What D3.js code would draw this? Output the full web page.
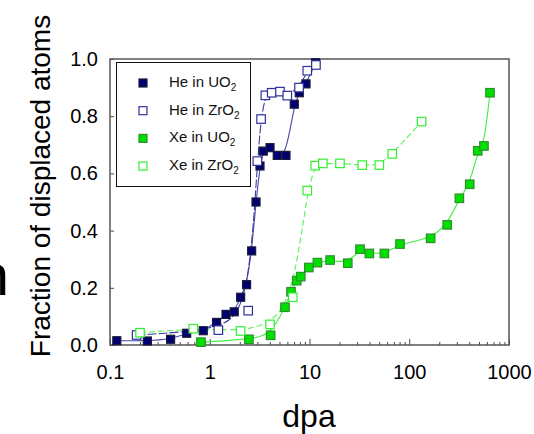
<!DOCTYPE html>
<html>
<head>
<meta charset="utf-8">
<script src="https://cdn.jsdelivr.net/npm/d3@7"></script>
<style>
  body { margin: 0; background: #fff; }
  svg { display: block; font-family: "Liberation Sans", Arial, sans-serif; }
</style>
</head>
<body>
<div id="chart"></div>
<script>
// ── Data ──────────────────────────────────────────────────────────────────
const heUO2_dpa = [0.117, 0.237, 0.405, 0.587, 0.861, 1.17, 1.456, 1.76, 2.04, 2.34, 2.63, 2.91, 3.19, 3.44, 4.02, 4.75, 5.81, 7.04, 7.9, 9.23, 11.5];
const heUO2_frac = [0.015, 0.014, 0.02, 0.041, 0.05, 0.079, 0.107, 0.116, 0.167, 0.211, 0.329, 0.5, 0.626, 0.678, 0.69, 0.663, 0.663, 0.842, 0.882, 0.913, 0.987];

const heZrO2_dpa = [0.185, 1.22, 2.43, 3.0, 3.27, 3.61, 4.18, 5.06, 5.99, 7.85, 9.5, 11.6];
const heZrO2_frac = [0.035, 0.052, 0.12, 0.643, 0.79, 0.873, 0.882, 0.886, 0.872, 0.9, 0.959, 0.979];

const xeUO2_dpa = [0.817, 2.47, 4.08, 5.68, 6.53, 7.45, 8.17, 9.85, 12.0, 16.1, 24.2, 32.1, 39.8, 56.3, 80.8, 164, 240, 318, 404, 486, 561, 645];
const xeUO2_frac = [0.01, 0.02, 0.034, 0.132, 0.186, 0.225, 0.239, 0.271, 0.288, 0.297, 0.286, 0.335, 0.32, 0.32, 0.353, 0.373, 0.42, 0.513, 0.562, 0.679, 0.696, 0.882];

const xeZrO2_dpa = [0.2, 0.684, 2.04, 4.02, 6.8, 9.5, 11.4, 13.6, 20.2, 33.8, 50.1, 67.6, 133];
const xeZrO2_frac = [0.043, 0.057, 0.049, 0.072, 0.167, 0.54, 0.627, 0.635, 0.635, 0.629, 0.629, 0.668, 0.781];

const xTickLabels = ["0.1", "1", "10", "100", "1000"];
const yTicks = [0, 0.2, 0.4, 0.6, 0.8, 1.0];

const SERIES = [
    { name: "He in UO", dpa: heUO2_dpa, frac: heUO2_frac, fill: "#000072", stroke: "#1a1a3a", line: "#4848a8", dash: null, size: 8 },
    { name: "He in ZrO", dpa: heZrO2_dpa, frac: heZrO2_frac, fill: "#ffffff", stroke: "#30309c", line: "#3c3ca4", dash: "9,2", size: 8.5 },
    { name: "Xe in UO", dpa: xeUO2_dpa, frac: xeUO2_frac, fill: "#00e000", stroke: "#2f8f2f", line: "#44ee44", dash: null, size: 8.5 },
    { name: "Xe in ZrO", dpa: xeZrO2_dpa, frac: xeZrO2_frac, fill: "#ffffff", stroke: "#30f030", line: "#55f555", dash: "6,3", size: 8.5 },
];

// ── Layout ─────────────────────────────────────────────────────────────────
const W = 534, H = 434;
const plot = { left: 110, right: 509, top: 59, bottom: 345 };

const svg = d3.select("#chart").append("svg")
    .attr("width", W).attr("height", H);

const x = d3.scaleLog().domain([0.1, 1000]).range([plot.left, plot.right]);
const y = d3.scaleLinear().domain([0, 1]).range([plot.bottom, plot.top]);

// stray letter from the slide, cut off at the left edge
svg.append("text")
    .attr("x", 9).attr("y", 295)
    .attr("text-anchor", "end")
    .attr("font-size", 58)
    .attr("fill", "#000")
    .text("n");

// ── Axes ───────────────────────────────────────────────────────────────────
const decades = xTickLabels.map(Number);
const minorTicks = [];
decades.slice(0, -1).forEach(d => { for (let k = 1; k <= 9; k++) minorTicks.push(d * k); });
minorTicks.push(1000);

const xAxis = svg.append("g")
    .attr("transform", `translate(0,${plot.bottom})`)
    .call(d3.axisBottom(x)
        .tickValues(minorTicks)
        .tickSizeInner(-3).tickSizeOuter(0)
        .tickPadding(20)
        .tickFormat(d => decades.includes(d) ? xTickLabels[decades.indexOf(d)] : ""));
xAxis.select(".domain").remove();
xAxis.selectAll(".tick line").attr("stroke", "#444")
    .filter(d => decades.includes(d)).attr("y2", -6);
xAxis.selectAll(".tick text").attr("font-size", 20).attr("fill", "#000")
    .attr("font-family", "Liberation Sans, Arial, sans-serif");

const yAxis = svg.append("g")
    .attr("transform", `translate(${plot.left},0)`)
    .call(d3.axisLeft(y)
        .tickValues(yTicks)
        .tickSizeInner(-4).tickSizeOuter(0)
        .tickPadding(12)
        .tickFormat(d3.format(".1f")));
yAxis.select(".domain").remove();
yAxis.selectAll(".tick line").attr("stroke", "#444");
yAxis.selectAll(".tick text").attr("font-size", 20).attr("fill", "#000")
    .attr("font-family", "Liberation Sans, Arial, sans-serif");

// frame
svg.append("rect")
    .attr("x", plot.left).attr("y", plot.top)
    .attr("width", plot.right - plot.left).attr("height", plot.bottom - plot.top)
    .attr("fill", "none").attr("stroke", "#555").attr("stroke-width", 1.5);

svg.append("text")
    .attr("transform", `translate(50,${(plot.top + plot.bottom) / 2 - 16}) rotate(-90)`)
    .attr("text-anchor", "middle")
    .attr("font-size", 28)
    .attr("fill", "#000")
    .text("Fraction of displaced atoms");

svg.append("text")
    .attr("x", 309).attr("y", 427)
    .attr("text-anchor", "middle")
    .attr("font-size", 32)
    .attr("fill", "#000")
    .text("dpa");

// ── Series ─────────────────────────────────────────────────────────────────
const line = d3.line()
    .x(d => x(d[0]))
    .y(d => y(d[1]))
    .curve(d3.curveBasis);

const lines = svg.append("g");
const marks = svg.append("g");

SERIES.forEach(s => {
    const pts = s.dpa.map((v, i) => [v, s.frac[i]]);
    lines.append("path")
        .datum(pts)
        .attr("fill", "none")
        .attr("stroke", s.line)
        .attr("stroke-width", 1.1)
        .attr("stroke-dasharray", s.dash)
        .attr("d", line);
});

SERIES.forEach(s => {
    const pts = s.dpa.map((v, i) => [v, s.frac[i]]);
    marks.selectAll(null)
        .data(pts)
        .join("rect")
        .attr("x", d => x(d[0]) - s.size / 2)
        .attr("y", d => y(d[1]) - s.size / 2)
        .attr("width", s.size).attr("height", s.size)
        .attr("fill", s.fill)
        .attr("stroke", s.stroke)
        .attr("stroke-width", 1.2);
});

// ── Legend ─────────────────────────────────────────────────────────────────
const legend = svg.append("g");
legend.append("rect")
    .attr("x", 116.5).attr("y", 62.5)
    .attr("width", 134).attr("height", 124)
    .attr("fill", "#fff").attr("stroke", "#111").attr("stroke-width", 1);

SERIES.forEach((s, i) => {
    const cy = 83 + i * 27.7;
    legend.append("rect")
        .attr("x", 143 - 4).attr("y", cy - 4)
        .attr("width", 8).attr("height", 8)
        .attr("fill", s.fill).attr("stroke", s.stroke).attr("stroke-width", 1.2);
    const t = legend.append("text")
        .attr("x", 169).attr("y", cy + 4)
        .attr("font-size", 15).attr("fill", "#111");
    t.append("tspan").text(s.name);
    t.append("tspan").attr("font-size", 10).attr("dy", 4).text("2");
});
</script>
</body>
</html>
